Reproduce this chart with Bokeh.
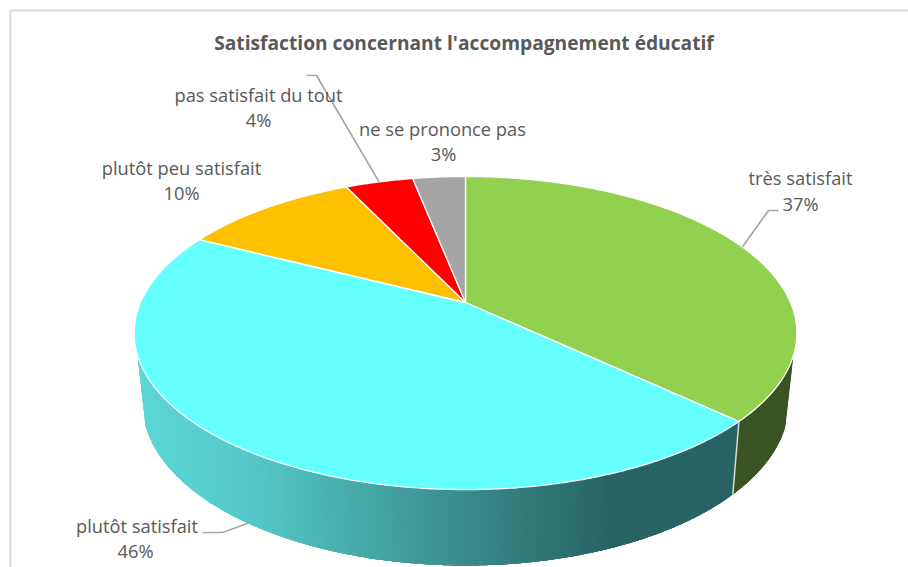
import math
from bokeh.plotting import figure
from bokeh.models import ColumnDataSource, Range1d
from bokeh.core.properties import value
from bokeh.embed import file_html
from bokeh.resources import INLINE

# --- data
title = "Satisfaction concernant l'accompagnement éducatif"
categories = ["très satisfait", "plutôt satisfait", "plutôt peu satisfait", "pas satisfait du tout", "ne se prononce pas"]
shares = [37.0, 45.5, 10.4, 4.0, 3.1]
percent_labels = ["37%", "46%", "10%", "4%", "3%"]
colors = ["#92D050", "#66FFFF", "#FFC000", "#FF0000", "#A5A5A5"]

# --- layout (page pixels)
X0, Y0 = 0, 0
W, H = 908, 567
TOP = dict(cx=465, cy=302, R=325, S=150.6, k=0.195)
BOT = dict(cx=465, cy=370.4, R=316.5, S=155.7, k=0.20)
SIDE_FROM, SIDE_TO = 109.2, 250.8
name_xy = [(800, 177), (136.5, 525), (181, 167), (258, 94), (442, 128)]
pct_xy = [(800, 203), (135, 550), (181, 192), (258, 119), (443, 153)]


def rim(deg, d):
    t = math.radians(deg)
    u, v = math.sin(t), math.cos(t)
    w = 1 + d["k"] * v
    return d["cx"] + d["R"] * u / w, d["cy"] - d["S"] * v / w


def arc(a, b, d, step=0.5):
    n = max(2, int(abs(b - a) / step) + 1)
    return [rim(a + (b - a) * i / (n - 1), d) for i in range(n)]


def mix(stops, x):
    if x <= stops[0][0]:
        return stops[0][1]
    for (x0, c0), (x1, c1) in zip(stops, stops[1:]):
        if x <= x1:
            f = (x - x0) / (x1 - x0)
            return tuple(round(a + (b - a) * f) for a, b in zip(c0, c1))
    return stops[-1][1]


cyan_side = [(140, (92, 214, 214)), (250, (84, 200, 200)), (454, (59, 143, 143)), (610, (41, 100, 100))]
green_side = [(600, (60, 84, 36))]

edges = [0.0]
for s in shares:
    edges.append(edges[-1] + s / sum(shares) * 360)

p = figure(width=W, height=H, x_range=Range1d(X0, X0 + W), y_range=Range1d(Y0 + H, Y0),
           output_backend="svg", toolbar_location=None, min_border=0, outline_line_color=None)
p.xaxis.visible = False
p.yaxis.visible = False
p.xgrid.visible = False
p.ygrid.visible = False
p.background_fill_color = "white"

# chart-area frame
p.line([10, 10, X0 + W], [Y0 + H, 10, 10], line_color="#D9D9D9", line_width=2)


def strips(a_from, a_to, stops):
    """Overlapping strips, painted in order, so that no seams show."""
    xs, ys, fills = [], [], []
    a = a_from
    while a < a_to:
        b = min(a + 2.0, a_to)
        col = arc(a, b, TOP, 0.25)
        bot = arc(a, b, BOT, 0.25)
        xs.append([q[0] for q in col] + [q[0] for q in reversed(bot)])
        ys.append([q[1] for q in col] + [q[1] for q in reversed(bot)])
        fills.append("#%02x%02x%02x" % mix(stops, col[0][0]))
        a += 0.5
    p.patches(xs, ys, fill_color=fills, line_color=None)


strips(SIDE_FROM, edges[1], green_side)
strips(edges[1], SIDE_TO, cyan_side)

# edge between the two visible side faces
t, b = rim(edges[1], TOP), rim(edges[1], BOT)
p.line([t[0], b[0]], [t[1], b[1]], line_color="#D9D9D9", line_width=1.5)

# top face
for i, c in enumerate(colors):
    pts = [rim(edges[i], TOP)] + arc(edges[i], edges[i + 1], TOP) + [(TOP["cx"], TOP["cy"])]
    p.patch([q[0] for q in pts], [q[1] for q in pts], fill_color=c, line_color="white", line_width=1.3)

# leader lines, from each slice's middle angle
mid = [(edges[i] + edges[i + 1]) / 2 for i in range(len(shares))]
LEADER = "#A6A6A6"
for i, disc, el, end in [(0, TOP, (768, 210), (778, 210)),
                         (1, BOT, (222, 532), (202, 532)),
                         (3, TOP, (316, 75), (306, 75))]:
    a0 = rim(mid[i], disc)
    p.line([a0[0], el[0], end[0]], [a0[1], el[1], end[1]], line_color=LEADER, line_width=1.7)

FONT = value("Open Sans")
src = ColumnDataSource(dict(x=[q[0] for q in name_xy], y=[q[1] for q in name_xy], t=categories))
p.text("x", "y", text="t", source=src, text_font=FONT, text_font_size="18.3px", text_color="#595959",
       text_align="center", text_baseline="middle")
src2 = ColumnDataSource(dict(x=[q[0] for q in pct_xy], y=[q[1] for q in pct_xy], t=percent_labels))
p.text("x", "y", text="t", source=src2, text_font=FONT, text_font_size="18.3px", text_color="#595959",
       text_align="center", text_baseline="middle")
p.text([463.5], [42], text=[title], text_font=FONT, text_font_style="bold", text_font_size="19.2px",
       text_color="#595959", text_align="center", text_baseline="middle")

open("out.html", "w").write(file_html(p, INLINE))
